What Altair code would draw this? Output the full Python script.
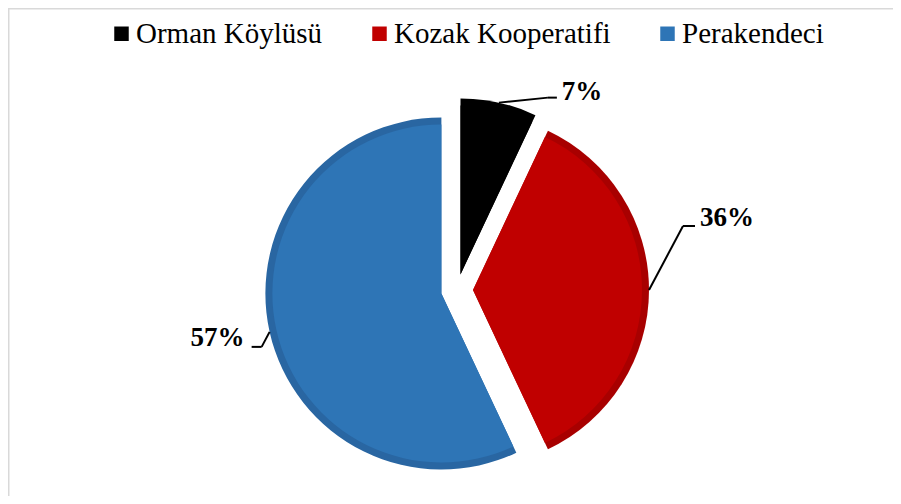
import altair as alt
import pandas as pd

# ---- data ----
categories = ["Orman Köylüsü", "Kozak Kooperatifi", "Perakendeci"]
values = [7, 36, 57]
labels = ["7%", "36%", "57%"]

# ---- styles ----
fill_colors = ["#000000", "#C00000", "#2E75B6"]
edge_colors = ["#000000", "#A80000", "#2966A2"]
SERIF = "'Liberation Serif', 'Times New Roman', Times, serif"

# ---- layout (pixels) ----
CX, CY = 449, 282      # pie centre before explosion
R = 176                # radius
EXPLODE = 16           # explosion distance
BAND = 7               # darker rim width

# leader-line / label offsets relative to the slice's outer mid point
elbow_dx = [49, 34, -8]
elbow_dy = [-5, -64, 15]
end_dx = [58, 46, -18]
label_dx = [83, 78, -52]
label_dy = [-11, -72, 6]

df = pd.DataFrame({
    "order": list(range(len(categories))),
    "category": categories,
    "value": values,
    "label": labels,
    "edx": elbow_dx,
    "edy": elbow_dy,
    "ndx": end_dx,
    "ldx": label_dx,
    "ldy": label_dy,
})

base = (
    alt.Chart(df)
    .transform_window(cum="sum(value)", sort=[alt.SortField("order")])
    .transform_joinaggregate(total="sum(value)")
    .transform_calculate(
        t0="(datum.cum - datum.value) / datum.total * 2 * PI",
        t1="datum.cum / datum.total * 2 * PI",
    )
    .transform_calculate(mid="(datum.t0 + datum.t1) / 2")
    .transform_calculate(
        cx=f"{CX} + {EXPLODE} * sin(datum.mid)",
        cy=f"{CY} - {EXPLODE} * cos(datum.mid)",
        ax=f"{CX} + {EXPLODE + R} * sin(datum.mid)",
        ay=f"{CY} - {EXPLODE + R} * cos(datum.mid)",
    )
    .transform_calculate(
        ex="datum.ax + datum.edx",
        ey="datum.ay + datum.edy",
        nx="datum.ax + datum.ndx",
        lx="datum.ax + datum.ldx",
        ly="datum.ay + datum.ldy",
    )
)

pos = dict(
    theta=alt.Theta("t0:Q", scale=None, stack=None),
    theta2=alt.Theta2("t1:Q"),
    x=alt.X("cx:Q", scale=None),
    y=alt.Y("cy:Q", scale=None),
)

outer = base.mark_arc(radius=R, strokeWidth=0).encode(
    color=alt.Color("category:N", scale=alt.Scale(domain=categories, range=edge_colors), legend=None),
    **pos,
)

inner = base.mark_arc(radius=R - BAND, strokeWidth=0).encode(
    color=alt.Color(
        "category:N",
        scale=alt.Scale(domain=categories, range=fill_colors),
        legend=alt.Legend(
            orient="none", legendX=99, legendY=11, direction="horizontal",
            title=None, symbolType="square", symbolSize=210, symbolStrokeWidth=0,
            labelFont=SERIF, labelFontSize=29, labelColor="black",
            columnPadding=42, labelOffset=0, symbolOffset=0, labelLimit=0,
            padding=0,
        ),
    ),
    **pos,
)

seg1 = base.mark_rule(color="black", strokeWidth=2).encode(
    x=alt.X("ax:Q", scale=None), y=alt.Y("ay:Q", scale=None),
    x2="ex:Q", y2="ey:Q",
)
seg2 = base.mark_rule(color="black", strokeWidth=2).encode(
    x=alt.X("ex:Q", scale=None), y=alt.Y("ey:Q", scale=None),
    x2="nx:Q", y2="ey:Q",
)

text = base.mark_text(
    font=SERIF, fontSize=27, fontWeight="bold", color="black",
    align="center", baseline="middle",
).encode(
    x=alt.X("lx:Q", scale=None), y=alt.Y("ly:Q", scale=None), text="label:N",
)

frame_data = pd.DataFrame({"k": [0]})
top_line = alt.Chart(frame_data).mark_rule(color="#D9D9D9", strokeWidth=1.5).encode(
    x=alt.value(0), x2=alt.value(885), y=alt.value(0.75)
)
left_line = alt.Chart(frame_data).mark_rule(color="#D9D9D9", strokeWidth=1.5).encode(
    x=alt.value(0.75), y=alt.value(0), y2=alt.value(488)
)

chart = (
    alt.layer(top_line, left_line, outer, inner, seg1, seg2, text)
    .resolve_scale(color="independent")
    .properties(width=885, height=488, autosize=alt.AutoSizeParams(type="none"), padding=0,
                background="white")
    .configure_view(stroke=None)
)

chart.save("out.html", embed_options={"renderer": "svg", "actions": False})
